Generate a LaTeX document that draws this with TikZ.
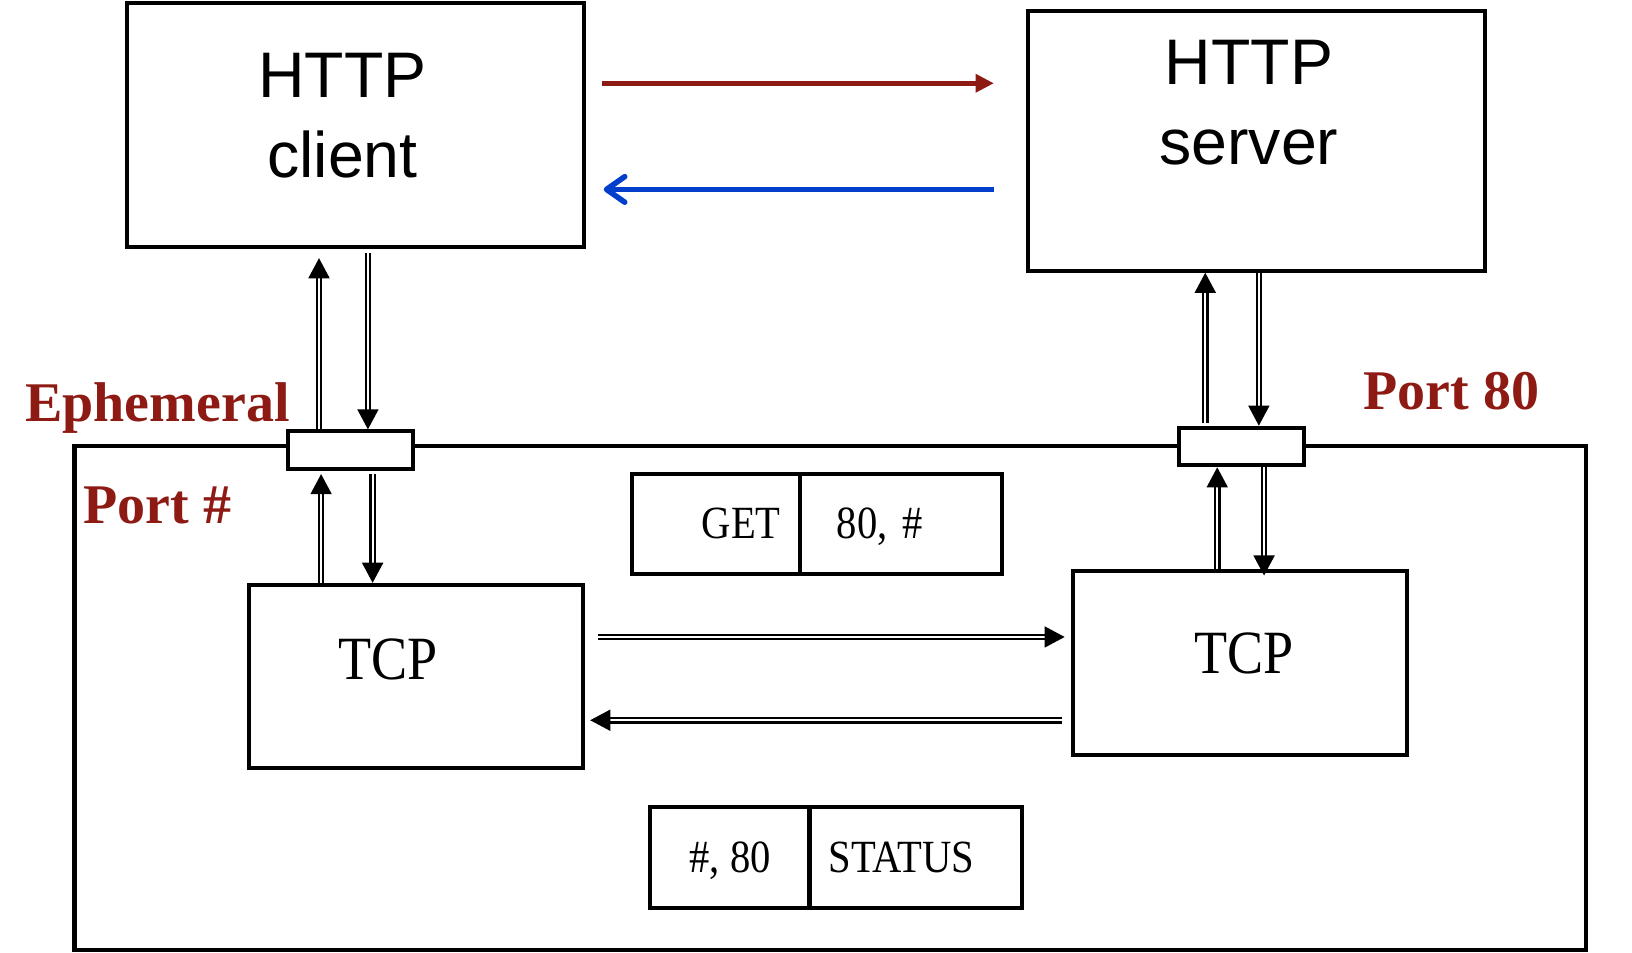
\documentclass[tikz,border=0pt]{standalone}
\usepackage{fontspec}
\setmainfont{Liberation Serif}
\newfontfamily\httpfont{Liberation Sans}
\newfontfamily\pktfont[FakeStretch=0.88]{Liberation Serif}
\usetikzlibrary{arrows.meta,calc,positioning}
\definecolor{portred}{RGB}{142,27,19}
\definecolor{replyblue}{RGB}{0,62,204}

\begin{document}
\begin{tikzpicture}[x=0.01cm,y=-0.01cm,
		app/.style={draw,line width=1.1pt,minimum width=4.39cm,inner sep=0pt},
		tcp/.style={draw,line width=1.1pt,minimum width=3.21cm,minimum height=1.76cm,inner sep=0pt},
		port/.style={draw,fill=white,line width=1.1pt,minimum width=1.2cm,minimum height=0.36cm,inner sep=0pt},
		cell/.style={draw,line width=1.1pt,minimum height=0.96cm,inner xsep=0pt,text depth=0pt,font=\pktfont\fontsize{12.6}{14}\selectfont},
		apptext/.style={align=center,inner sep=0pt,font=\httpfont\fontsize{17.6}{21.9}\selectfont},
		tcptext/.style={inner sep=0pt,font=\pktfont\fontsize{16.8}{20}\selectfont},
		portlabel/.style={anchor=base,inner sep=0pt,text=portred,font=\bfseries\fontsize{15.3}{18}\selectfont},
		pipe/.style={double,line width=0.6pt,double distance=0.6pt,-{Triangle[length=5.5pt,width=5.7pt]}},
		request/.style={portred,line width=1.5pt,-{Triangle[length=5pt,width=4.8pt]}},
		reply/.style={replyblue,line width=1.5pt,-{Straight Barb[round,length=5pt,width=7pt]}}]
	\useasboundingbox (0,0) rectangle (1568,915);

	% host and its two ports
	\node[draw,line width=1.1pt,minimum width=14.51cm,minimum height=4.84cm] (host) at (797.5,671) {};
	\node[port] (lport) at (336.5,432.5) {};
	\node[port] (rport) at (1193,429) {};

	\node[app,minimum height=2.34cm] (client) at (341.5,120) {};
	\node[app,minimum height=2.49cm] (server) at (1207.5,135.5) {};
	\node[apptext] (clientname) at (329,111.5) {HTTP\\client};
	\node[apptext] (servername) at (1200,99) {HTTP\\server};

	\node[tcp] (ltcp) at (399.5,650) {};
	\node[tcp] (rtcp) at (1191.5,637) {};
	\node[tcptext] (lname) at (373,633.5) {TCP};
	\node[tcptext] (rname) at (1195,628) {TCP};

	% segments
	\node[cell,text width=1.24cm,inner xsep=0.19cm,align=right] (get) at (688,503) {GET};
	\node[cell,text width=1.24cm,inner xsep=0.35cm,align=left] (getaddr) at (866,503) {80, \#};
	\node[cell,minimum width=1.53cm,minimum height=0.97cm] (staddr) at (701.5,823.5) {\#, 80};
	\node[cell,text width=1.67cm,inner xsep=0.19cm,align=left,minimum height=0.97cm] (status) at (879.5,823.5) {STATUS};

	\node[portlabel] (ephem) at (151.3,405) {Ephemeral};
	\node[portlabel] (portnum) at (151.3,502.6) {Port \#};
	\node[portlabel] (port80) at (1394.5,393) {Port 80};

	\draw[request] ($(client.east)+(15,-40)$) -- ($(client.east -| server.west)+(-31,-40)$);
	\draw[reply] ($(client.east -| server.west)+(-31,62)$) -- ($(client.east)+(17,62)$);

	\draw[pipe] ($(lport.north)+(-30,0)$) -- ($(lport.north |- client.south)+(-30,9)$);
	\draw[pipe] ($(lport.north |- client.south)+(17,4)$) -- ($(lport.north)+(17,0)$);
	\draw[pipe] ($(lport.south |- ltcp.north)+(-28,0)$) -- ($(lport.south)+(-28,3)$);
	\draw[pipe] ($(lport.south)+(21.5,3)$) -- ($(lport.south |- ltcp.north)+(21.5,0)$);

	\draw[pipe] ($(rport.north)+(-35,-3)$) -- ($(rport.north |- server.south)+(-35,0)$);
	\draw[pipe] ($(rport.north |- server.south)+(16.5,0)$) -- ($(rport.north)+(16.5,0)$);
	\draw[pipe] ($(rport.south |- rtcp.north)+(-23.5,0)$) -- ($(rport.south)+(-23.5,0)$);
	\draw[pipe] ($(rport.south)+(21.5,0)$) -- ($(rport.south |- rtcp.north)+(21.5,6)$);

	\draw[pipe] ($(ltcp.east)+(13,-38)$) -- ($(rtcp.west |- ltcp.east)+(-6,-38)$);
	\draw[pipe] ($(rtcp.west |- ltcp.east)+(-9,42)$) -- ($(ltcp.east)+(5,42)$);
\end{tikzpicture}
\end{document}
